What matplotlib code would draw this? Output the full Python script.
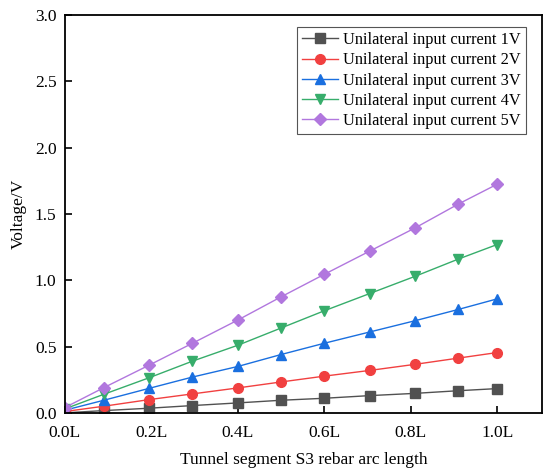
import matplotlib
matplotlib.use("Agg")
import matplotlib.pyplot as plt

plt.rcParams['font.family'] = ['Liberation Serif', 'DejaVu Serif']
plt.rcParams['mathtext.fontset'] = 'stix'

# arc position along rebar (fraction of L)
x = [0.0, 0.09, 0.195, 0.295, 0.40, 0.50, 0.60, 0.705, 0.81, 0.91, 1.0]

v1 = [0.0, 0.017, 0.035, 0.055, 0.075, 0.095, 0.11, 0.13, 0.147, 0.167, 0.183]
v2 = [0.01, 0.05, 0.10, 0.143, 0.188, 0.233, 0.277, 0.32, 0.366, 0.413, 0.455]
v3 = [0.02, 0.095, 0.185, 0.27, 0.35, 0.44, 0.525, 0.61, 0.695, 0.78, 0.86]
v4 = [0.03, 0.14, 0.265, 0.39, 0.51, 0.64, 0.77, 0.90, 1.03, 1.16, 1.27]
v5 = [0.04, 0.19, 0.36, 0.525, 0.70, 0.875, 1.045, 1.22, 1.395, 1.575, 1.725]

labels = ["Unilateral input current 1V", "Unilateral input current 2V",
          "Unilateral input current 3V", "Unilateral input current 4V",
          "Unilateral input current 5V"]
colors = ["#515151", "#F14040", "#1A6FDF", "#37AD6B", "#B177DE"]
markers = ["s", "o", "^", "v", "D"]
xticks = [0.0, 0.2, 0.4, 0.6, 0.8, 1.0]
xticklabels = ["0.0L", "0.2L", "0.4L", "0.6L", "0.8L", "1.0L"]

fig = plt.figure(figsize=(5.5, 4.74), dpi=100)
ax = fig.add_axes([0.118, 0.129, 0.867, 0.839])

for ys, lab, c, m in zip([v1, v2, v3, v4, v5], labels, colors, markers):
    ms = 6 if m == "D" else 7
    ax.plot(x, ys, color=c, marker=m, markersize=ms, linewidth=1, label=lab)

ax.set_xlim(0, 1.103)
ax.set_ylim(0, 3.0)
ax.set_xticks(xticks)
ax.set_xticklabels(xticklabels)
ax.set_yticks([0.0, 0.5, 1.0, 1.5, 2.0, 2.5, 3.0])
ax.tick_params(direction='in', length=5, width=1.2, labelsize=12.5)
ax.tick_params(axis='y', pad=6)
ax.tick_params(axis='x', pad=9)
for s in ax.spines.values():
    s.set_linewidth(1.3)

ax.set_xlabel("Tunnel segment S3 rebar arc length", fontsize=12.5, labelpad=8)
ax.set_ylabel("Voltage/V", fontsize=12.5, labelpad=6)

leg = ax.legend(loc='upper right', fontsize=11.8, fancybox=False, framealpha=1,
                edgecolor='#555555', handlelength=2.2, borderpad=0.3,
                labelspacing=0.26, handletextpad=0.3, borderaxespad=0,
                bbox_to_anchor=(0.966, 0.970))
leg.get_frame().set_linewidth(0.8)

fig.savefig("out.png", dpi=100)
